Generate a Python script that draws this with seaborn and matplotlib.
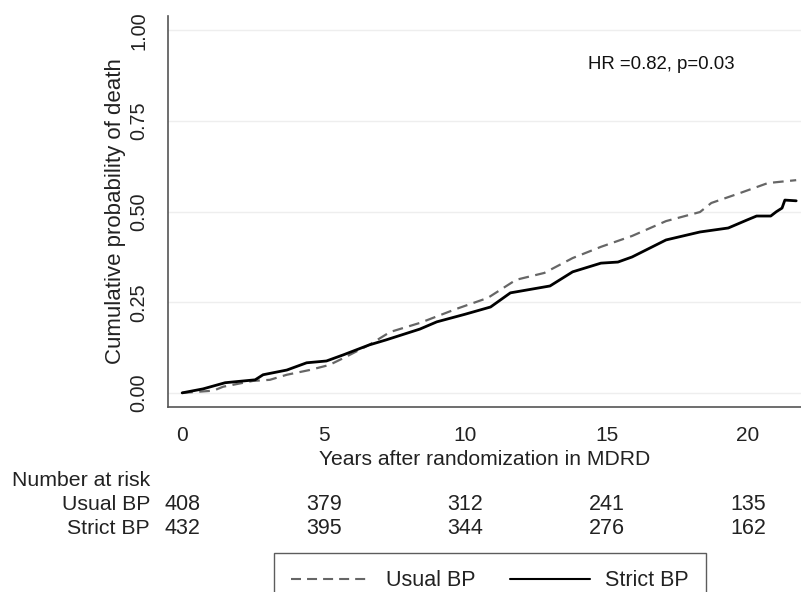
import numpy as np
import pandas as pd
import seaborn as sns
from matplotlib import pyplot as plt
from matplotlib.lines import Line2D

usual_t = [0, 1.1, 1.45, 2.5, 3.1, 3.7, 4.5, 5.2, 5.7, 6.6, 7.35, 8.4, 9.7, 10.8,
           11.8, 12.8, 13.8, 14.8, 15.9, 17.1, 18.3, 18.7, 19.7, 20.7, 21.7]
usual_p = [0, 0.006, 0.017, 0.033, 0.036, 0.05, 0.063, 0.077, 0.096, 0.132, 0.168,
           0.193, 0.232, 0.262, 0.312, 0.331, 0.372, 0.403, 0.433, 0.474, 0.499,
           0.524, 0.551, 0.579, 0.587]
strict_t = [0, 0.74, 1.52, 2.58, 2.86, 3.7, 4.4, 5.1, 5.7, 6.6, 7.2, 8.4, 9.0, 10.0,
            10.9, 11.6, 13.0, 13.8, 14.8, 15.4, 15.9, 17.1, 18.3, 19.3, 19.96, 20.3,
            20.8, 21.0, 21.2, 21.3, 21.7]
strict_p = [0, 0.011, 0.028, 0.036, 0.05, 0.063, 0.083, 0.088, 0.105, 0.132, 0.146,
            0.176, 0.196, 0.217, 0.237, 0.276, 0.295, 0.334, 0.358, 0.361, 0.375,
            0.422, 0.444, 0.455, 0.477, 0.488, 0.488, 0.5, 0.51, 0.532, 0.53]

risk_times = [0, 5, 10, 15, 20]
usual_risk = [408, 379, 312, 241, 135]
strict_risk = [432, 395, 344, 276, 162]

sns.set_style("white")
plt.rcParams['font.family'] = ['Liberation Sans', 'DejaVu Sans']

txtc = "#222222"
dash = (0, (4.8, 2.9))

fig = plt.figure(figsize=(8.01, 5.92), dpi=100)
ax = fig.add_axes([168 / 801, 185 / 592, 633 / 801, 391 / 592])

df_u = pd.DataFrame({"t": usual_t, "p": usual_p})
df_s = pd.DataFrame({"t": strict_t, "p": strict_p})
sns.lineplot(data=df_u, x="t", y="p", ax=ax, color="#666666", lw=1.6,
             linestyle=dash, estimator=None, sort=False)
sns.lineplot(data=df_s, x="t", y="p", ax=ax, color="black", lw=2.0,
             estimator=None, sort=False)

ax.set_xlim(-0.5, 21.87)
ax.set_ylim(-0.039, 1.04)
ax.set_xticks(risk_times)
ax.set_yticks([0, 0.25, 0.5, 0.75, 1.0])
ax.set_yticklabels(["0.00", "0.25", "0.50", "0.75", "1.00"], rotation=90, va="center")
ax.tick_params(axis="both", direction="out", length=6, width=1, color="#555555",
               colors=txtc)
ax.tick_params(axis="y", pad=8, labelsize=14.3)
ax.tick_params(axis="x", pad=8, labelsize=15)
for y in [0, 0.25, 0.5, 0.75, 1.0]:
    ax.axhline(y, color="#eeeeee", lw=1, zorder=0)
sns.despine(ax=ax, top=True, right=True)
for s in ["left", "bottom"]:
    ax.spines[s].set_color("#555555")
    ax.spines[s].set_linewidth(1.2)

ax.set_xlabel("Years after randomization in MDRD", fontsize=15.2, color=txtc, labelpad=3)
ax.set_ylabel("Cumulative probability of death", fontsize=16, color=txtc)
ax.yaxis.set_label_coords(-0.066, 0.5)

ax.text(0.664, 0.875, "HR =0.82, p=0.03", transform=ax.transAxes, fontsize=13.4,
        color="#111111", va="center", ha="left")

# number at risk table
fig.text(12 / 801, 1 - 480 / 592, "Number at risk", fontsize=15.3, color=txtc,
         ha="left", va="center")
fig.text(150 / 801, 1 - 505 / 592, "Usual BP", fontsize=15.3, color=txtc,
         ha="right", va="center")
fig.text(150 / 801, 1 - 528 / 592, "Strict BP", fontsize=15.3, color=txtc,
         ha="right", va="center")
tr = ax.get_xaxis_transform()
for t, u, s in zip(risk_times, usual_risk, strict_risk):
    ax.text(t, (407 - 505) / 391, str(u), transform=tr, ha="center", va="center",
            fontsize=15.5, color=txtc, clip_on=False)
    ax.text(t, (407 - 528) / 391, str(s), transform=tr, ha="center", va="center",
            fontsize=15.5, color=txtc, clip_on=False)

handles = [Line2D([], [], color="#666666", lw=1.5, linestyle=dash),
           Line2D([], [], color="black", lw=1.5)]
leg = fig.legend(handles, ["Usual BP", "Strict BP"], loc="upper center",
                 bbox_to_anchor=(490 / 801, 1 - 553 / 592), ncol=2, frameon=True,
                 fancybox=False, edgecolor="#333333", fontsize=15.5, handlelength=3.7,
                 columnspacing=1.6, handletextpad=0.7, borderpad=0.8,
                 borderaxespad=0)
leg.get_frame().set_linewidth(1.0)
for txt in leg.get_texts():
    txt.set_color(txtc)

fig.savefig("out.png", dpi=100)
